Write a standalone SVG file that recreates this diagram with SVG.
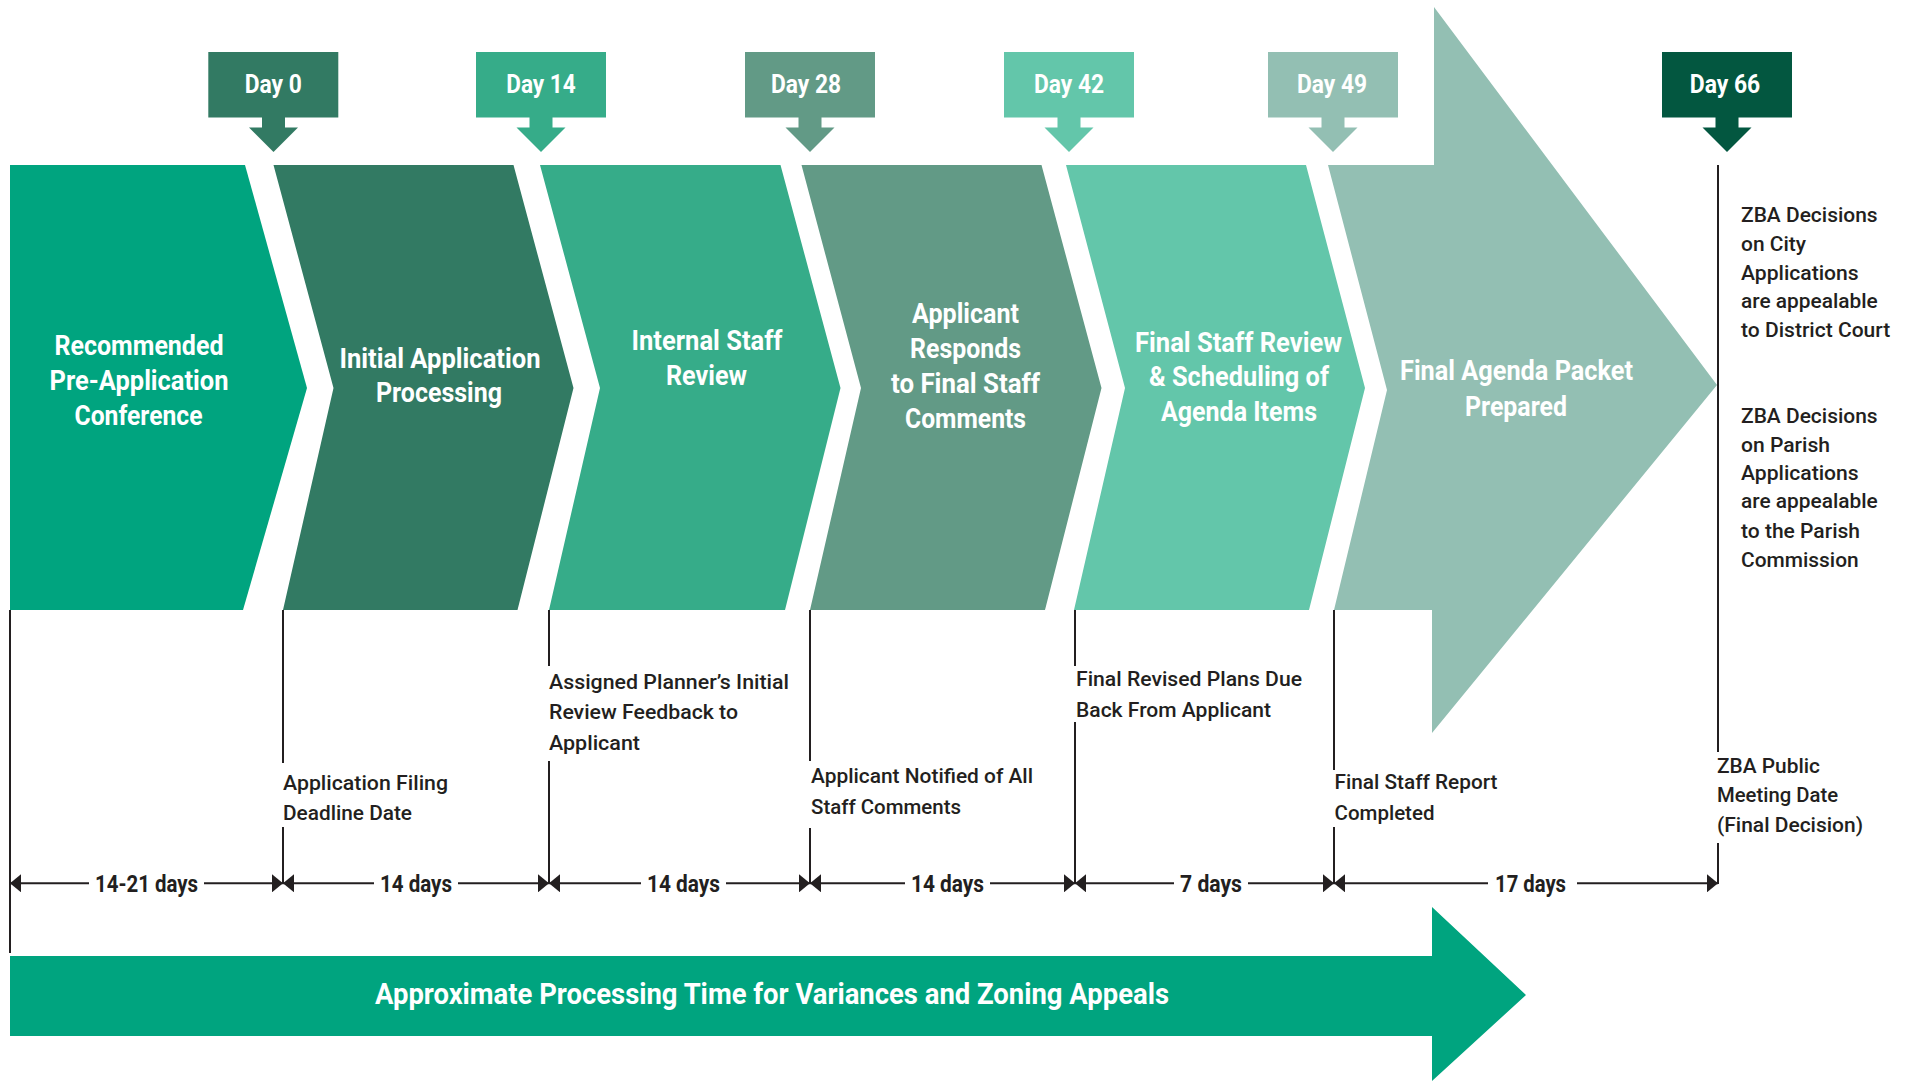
<svg xmlns="http://www.w3.org/2000/svg" width="1910" height="1081" viewBox="0 0 1910 1081">
<style>
.lbl{font-family:Roboto,"Liberation Sans",sans-serif;font-weight:700;font-size:28px;fill:#fff;text-anchor:middle}
.day{font-family:Roboto,"Liberation Sans",sans-serif;font-weight:700;font-size:26px;fill:#fff;text-anchor:middle}
.dim{font-family:Roboto,"Liberation Sans",sans-serif;font-weight:700;font-size:23px;fill:#231F20;text-anchor:middle}
.ann{font-family:Roboto,"Liberation Sans",sans-serif;font-weight:500;font-size:21px;fill:#231F20}
.side{font-family:Roboto,"Liberation Sans",sans-serif;font-weight:500;font-size:21px;fill:#231F20}
.big{font-family:Roboto,"Liberation Sans",sans-serif;font-weight:700;font-size:30px;fill:#fff;text-anchor:middle}
.vl{stroke:#231F20;stroke-width:2;fill:none}
.dl{stroke:#231F20;stroke-width:2;fill:none}
.ds{marker-start:url(#arr)}
.de{marker-end:url(#arr)}
</style>
<defs>
<marker id="arr" markerUnits="userSpaceOnUse" markerWidth="12" markerHeight="18" refX="11" refY="9" orient="auto-start-reverse" viewBox="0 0 12 18">
<path d="M0,0 L11,9 L0,18 Z" fill="#231F20"/>
</marker>
</defs>
<rect width="1910" height="1081" fill="#ffffff"/>

<g id="day-0">
<rect x="208.3" y="52" width="130" height="65.5" fill="#327A63"/>
<polygon points="262,117 285,117 285,127.5 298,127.5 273.5,152 249,127.5 262,127.5" fill="#327A63"/>
<text class="day" x="273.3" y="93.3" textLength="57" lengthAdjust="spacingAndGlyphs">Day 0</text>
</g>
<g id="day-14">
<rect x="476" y="52" width="130" height="65.5" fill="#36AC89"/>
<polygon points="529.5,117 552.5,117 552.5,127.5 565.5,127.5 541,152 516.5,127.5 529.5,127.5" fill="#36AC89"/>
<text class="day" x="541" y="93.3" textLength="69.5" lengthAdjust="spacingAndGlyphs">Day 14</text>
</g>
<g id="day-28">
<rect x="745" y="52" width="130" height="65.5" fill="#629A86"/>
<polygon points="798.5,117 821.5,117 821.5,127.5 834.5,127.5 810,152 785.5,127.5 798.5,127.5" fill="#629A86"/>
<text class="day" x="806" y="93.3" textLength="70" lengthAdjust="spacingAndGlyphs">Day 28</text>
</g>
<g id="day-42">
<rect x="1004" y="52" width="130" height="65.5" fill="#63C6AA"/>
<polygon points="1057.5,117 1080.5,117 1080.5,127.5 1093.5,127.5 1069,152 1044.5,127.5 1057.5,127.5" fill="#63C6AA"/>
<text class="day" x="1069" y="93.3" textLength="70" lengthAdjust="spacingAndGlyphs">Day 42</text>
</g>
<g id="day-49">
<rect x="1268" y="52" width="130" height="65.5" fill="#93BFB3"/>
<polygon points="1321.5,117 1344.5,117 1344.5,127.5 1357.5,127.5 1333,152 1308.5,127.5 1321.5,127.5" fill="#93BFB3"/>
<text class="day" x="1332" y="93.3" textLength="70" lengthAdjust="spacingAndGlyphs">Day 49</text>
</g>
<g id="day-66">
<rect x="1662" y="52" width="130" height="65.5" fill="#035740"/>
<polygon points="1715.5,117 1738.5,117 1738.5,127.5 1751.5,127.5 1727,152 1702.5,127.5 1715.5,127.5" fill="#035740"/>
<text class="day" x="1725" y="93.3" textLength="70.5" lengthAdjust="spacingAndGlyphs">Day 66</text>
</g>

<g id="step-1">
<polygon points="10,165 245,165 307,388 243,610 10,610" fill="#00A47F"/>
<text class="lbl" x="139" y="355" textLength="169" lengthAdjust="spacingAndGlyphs">Recommended</text>
<text class="lbl" x="139" y="390" textLength="179" lengthAdjust="spacingAndGlyphs">Pre-Application</text>
<text class="lbl" x="138.5" y="425" textLength="128" lengthAdjust="spacingAndGlyphs">Conference</text>
</g>
<g id="step-2">
<polygon points="273.5,165 513.5,165 573.5,388 517.5,610 283,610 333.5,388" fill="#327A63"/>
<text class="lbl" x="440" y="368" textLength="201" lengthAdjust="spacingAndGlyphs">Initial Application</text>
<text class="lbl" x="439" y="402" textLength="126" lengthAdjust="spacingAndGlyphs">Processing</text>
</g>
<g id="step-3">
<polygon points="540,165 780.5,165 840.5,388 785,610 549,610 600,388" fill="#36AC89"/>
<text class="lbl" x="707" y="350" textLength="151" lengthAdjust="spacingAndGlyphs">Internal Staff</text>
<text class="lbl" x="706.5" y="385" textLength="81" lengthAdjust="spacingAndGlyphs">Review</text>
</g>
<g id="step-4">
<polygon points="801.5,165 1041.5,165 1101.5,388 1045,610 810,610 861,388" fill="#629A86"/>
<text class="lbl" x="965.5" y="323" textLength="107" lengthAdjust="spacingAndGlyphs">Applicant</text>
<text class="lbl" x="965.5" y="358" textLength="111" lengthAdjust="spacingAndGlyphs">Responds</text>
<text class="lbl" x="965.5" y="393" textLength="149" lengthAdjust="spacingAndGlyphs">to Final Staff</text>
<text class="lbl" x="965.5" y="428" textLength="121" lengthAdjust="spacingAndGlyphs">Comments</text>
</g>
<g id="step-5">
<polygon points="1066,165 1306,165 1365,388 1309,610 1074,610 1125,388" fill="#63C6AA"/>
<text class="lbl" x="1238.5" y="352" textLength="207" lengthAdjust="spacingAndGlyphs">Final Staff Review</text>
<text class="lbl" x="1239" y="386" textLength="180" lengthAdjust="spacingAndGlyphs">&amp; Scheduling of</text>
<text class="lbl" x="1239" y="421" textLength="156" lengthAdjust="spacingAndGlyphs">Agenda Items</text>
</g>
<g id="step-6">
<polygon points="1328,165 1434,165 1434,7 1717,385 1432,733 1432,610 1334,610 1387,390" fill="#93BFB3"/>
<text class="lbl" x="1516.5" y="380" textLength="233" lengthAdjust="spacingAndGlyphs">Final Agenda Packet</text>
<text class="lbl" x="1516" y="416" textLength="102" lengthAdjust="spacingAndGlyphs">Prepared</text>
</g>

<g id="connectors">
<path class="vl" d="M10,610 V953"/>
<path class="vl" d="M283,610 V763 M283,827 V884"/>
<path class="vl" d="M549,610 V666 M549,761 V884"/>
<path class="vl" d="M810,610 V761 M810,828 V884"/>
<path class="vl" d="M1075,610 V666 M1075,722 V884"/>
<path class="vl" d="M1334,610 V770 M1334,827 V884"/>
<path class="vl" d="M1718,165 V752 M1718,843 V884"/>
<line class="dl ds" x1="10" y1="883.3" x2="89" y2="883.3"/>
<line class="dl de" x1="204" y1="883.3" x2="283" y2="883.3"/>
<line class="dl ds" x1="283" y1="883.3" x2="374" y2="883.3"/>
<line class="dl de" x1="458" y1="883.3" x2="549" y2="883.3"/>
<line class="dl ds" x1="549" y1="883.3" x2="641" y2="883.3"/>
<line class="dl de" x1="726" y1="883.3" x2="810" y2="883.3"/>
<line class="dl ds" x1="810" y1="883.3" x2="905" y2="883.3"/>
<line class="dl de" x1="990" y1="883.3" x2="1075" y2="883.3"/>
<line class="dl ds" x1="1075" y1="883.3" x2="1174" y2="883.3"/>
<line class="dl de" x1="1248" y1="883.3" x2="1334" y2="883.3"/>
<line class="dl ds" x1="1334" y1="883.3" x2="1488" y2="883.3"/>
<line class="dl de" x1="1577" y1="883.3" x2="1718" y2="883.3"/>
<text class="dim" x="146.5" y="891.7" textLength="103" lengthAdjust="spacingAndGlyphs">14-21 days</text>
<text class="dim" x="416" y="891.7" textLength="72" lengthAdjust="spacingAndGlyphs">14 days</text>
<text class="dim" x="683.5" y="891.7" textLength="73" lengthAdjust="spacingAndGlyphs">14 days</text>
<text class="dim" x="947.5" y="891.7" textLength="73" lengthAdjust="spacingAndGlyphs">14 days</text>
<text class="dim" x="1211" y="891.7" textLength="62" lengthAdjust="spacingAndGlyphs">7 days</text>
<text class="dim" x="1530.5" y="891.7" textLength="71" lengthAdjust="spacingAndGlyphs">17 days</text>
</g>

<g id="milestone-filing">
<text class="ann" x="283" y="790" textLength="165" lengthAdjust="spacingAndGlyphs">Application Filing</text>
<text class="ann" x="283" y="820" textLength="129" lengthAdjust="spacingAndGlyphs">Deadline Date</text>
</g>
<g id="milestone-feedback">
<text class="ann" x="549" y="689" textLength="240" lengthAdjust="spacingAndGlyphs">Assigned Planner’s Initial</text>
<text class="ann" x="549" y="719" textLength="189" lengthAdjust="spacingAndGlyphs">Review Feedback to</text>
<text class="ann" x="549" y="750" textLength="91" lengthAdjust="spacingAndGlyphs">Applicant</text>
</g>
<g id="milestone-notified">
<text class="ann" x="811" y="783" textLength="222" lengthAdjust="spacingAndGlyphs">Applicant Notified of All</text>
<text class="ann" x="811" y="814" textLength="150" lengthAdjust="spacingAndGlyphs">Staff Comments</text>
</g>
<g id="milestone-revised">
<text class="ann" x="1076" y="686" textLength="226" lengthAdjust="spacingAndGlyphs">Final Revised Plans Due</text>
<text class="ann" x="1076" y="717" textLength="195" lengthAdjust="spacingAndGlyphs">Back From Applicant</text>
</g>
<g id="milestone-report">
<text class="ann" x="1334.5" y="789" textLength="163" lengthAdjust="spacingAndGlyphs">Final Staff Report</text>
<text class="ann" x="1334.5" y="820" textLength="100" lengthAdjust="spacingAndGlyphs">Completed</text>
</g>
<g id="milestone-meeting">
<text class="ann" x="1717" y="773" textLength="103" lengthAdjust="spacingAndGlyphs">ZBA Public</text>
<text class="ann" x="1717" y="802" textLength="121" lengthAdjust="spacingAndGlyphs">Meeting Date</text>
<text class="ann" x="1717" y="832" textLength="146" lengthAdjust="spacingAndGlyphs">(Final Decision)</text>
</g>

<g id="note-city">
<text class="side" x="1741" y="221.7" textLength="136.6" lengthAdjust="spacingAndGlyphs">ZBA Decisions</text>
<text class="side" x="1741" y="250.7" textLength="65" lengthAdjust="spacingAndGlyphs">on City</text>
<text class="side" x="1741" y="280" textLength="117.7" lengthAdjust="spacingAndGlyphs">Applications</text>
<text class="side" x="1741" y="308.3" textLength="136.7" lengthAdjust="spacingAndGlyphs">are appealable</text>
<text class="side" x="1741" y="336.7" textLength="149.3" lengthAdjust="spacingAndGlyphs">to District Court</text>
</g>
<g id="note-parish">
<text class="side" x="1741" y="423.3" textLength="136.6" lengthAdjust="spacingAndGlyphs">ZBA Decisions</text>
<text class="side" x="1741" y="451.7" textLength="89" lengthAdjust="spacingAndGlyphs">on Parish</text>
<text class="side" x="1741" y="480" textLength="117.7" lengthAdjust="spacingAndGlyphs">Applications</text>
<text class="side" x="1741" y="508.3" textLength="136.7" lengthAdjust="spacingAndGlyphs">are appealable</text>
<text class="side" x="1741" y="538.3" textLength="119" lengthAdjust="spacingAndGlyphs">to the Parish</text>
<text class="side" x="1741" y="566.7" textLength="117.7" lengthAdjust="spacingAndGlyphs">Commission</text>
</g>

<g id="overall-arrow">
<polygon points="10,956 1432,956 1432,907 1526,995 1432,1081 1432,1036 10,1036" fill="#00A47F"/>
<text class="big" x="772" y="1004" textLength="794" lengthAdjust="spacingAndGlyphs">Approximate Processing Time for Variances and Zoning Appeals</text>
</g>
</svg>
